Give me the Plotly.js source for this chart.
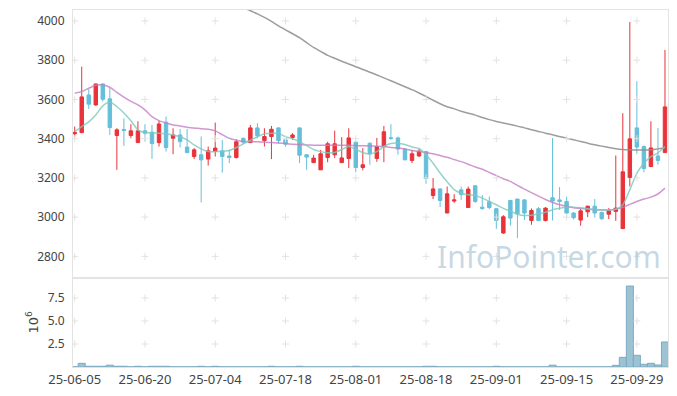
<!DOCTYPE html>
<html>
<head>
<meta charset="utf-8">
<script src="https://cdn.plot.ly/plotly-3.0.1.min.js"></script>
<style>
  html, body { margin: 0; padding: 0; background: #fff; }
  #chart { width: 677px; height: 396px; }
</style>
</head>
<body>
<div id="chart"></div>
<script>
const dates = [
  "25-06-05","25-06-09","25-06-10","25-06-11","25-06-12","25-06-13","25-06-16","25-06-17","25-06-18","25-06-19",
  "25-06-20","25-06-23","25-06-24","25-06-25","25-06-26","25-06-27","25-06-30","25-07-01","25-07-02","25-07-03",
  "25-07-04","25-07-07","25-07-08","25-07-09","25-07-10","25-07-11","25-07-14","25-07-15","25-07-16","25-07-17",
  "25-07-18","25-07-21","25-07-22","25-07-23","25-07-24","25-07-25","25-07-28","25-07-29","25-07-30","25-07-31",
  "25-08-01","25-08-04","25-08-05","25-08-06","25-08-07","25-08-08","25-08-11","25-08-12","25-08-13","25-08-14",
  "25-08-18","25-08-19","25-08-20","25-08-21","25-08-22","25-08-25","25-08-26","25-08-27","25-08-28","25-08-29",
  "25-09-01","25-09-02","25-09-03","25-09-04","25-09-05","25-09-08","25-09-09","25-09-10","25-09-11","25-09-12",
  "25-09-15","25-09-16","25-09-17","25-09-18","25-09-19","25-09-22","25-09-23","25-09-24","25-09-25","25-09-26",
  "25-09-29","25-09-30","25-10-01","25-10-02","25-10-10"
];

const openP = [
  3425,3431,3623,3572,3679,3603,3416,3447,3416,3380,
  3440,3433,3380,3484,3402,3419,3357,3309,3318,3296,
  3335,3338,3312,3304,3402,3380,3455,3390,3411,3455,
  3394,3406,3455,3318,3278,3241,3304,3318,3278,3299,
  3382,3253,3377,3299,3360,3405,3404,3347,3289,3312,
  3334,3110,3144,3021,3082,3139,3049,3160,3051,3078,
  3043,2919,3085,3092,3088,2983,3043,2983,3099,3088,
  3080,3021,2985,3027,3056,3024,3015,3029,2942,3202,
  3455,3360,3258,3312,3329
];
const highP = [
  3462,3767,3652,3680,3681,3657,3453,3504,3474,3489,
  3474,3470,3492,3513,3453,3449,3450,3352,3411,3360,
  3482,3394,3343,3397,3404,3470,3479,3453,3465,3457,
  3411,3428,3457,3320,3318,3343,3384,3441,3408,3453,
  3390,3352,3380,3404,3465,3474,3411,3350,3343,3347,
  3338,3199,3146,3156,3117,3156,3156,3162,3112,3105,
  3045,3010,3088,3094,3092,3044,3051,3051,3403,3153,
  3105,3026,3044,3058,3092,3028,3046,3314,3530,3995,
  3693,3365,3489,3455,3852
];
const lowP = [
  3406,3428,3552,3568,3589,3419,3241,3363,3402,3378,
  3385,3297,3360,3334,3321,3355,3326,3296,3075,3263,
  3309,3227,3275,3299,3375,3378,3402,3360,3296,3375,
  3360,3394,3275,3241,3278,3241,3280,3301,3278,3250,
  3229,3238,3267,3282,3280,3394,3318,3290,3275,3306,
  3170,3092,3051,3021,3072,3088,3049,3073,3037,3040,
  2940,2915,2956,2893,2985,2961,2980,2978,2983,3037,
  3000,2988,2956,3000,2998,2985,2990,2981,2940,3156,
  3323,3229,3255,3267,3329
];
const closeP = [
  3432,3613,3576,3679,3601,3457,3445,3442,3440,3440,
  3428,3375,3475,3355,3419,3385,3329,3343,3292,3338,
  3352,3309,3304,3384,3382,3455,3416,3411,3448,3390,
  3372,3419,3316,3306,3301,3323,3374,3374,3302,3404,
  3253,3267,3323,3360,3435,3401,3347,3292,3323,3336,
  3197,3144,3085,3119,3088,3115,3143,3080,3044,3049,
  2983,3002,2995,3017,3021,3034,2983,3046,3082,3080,
  3021,2997,3032,3056,3021,2992,3032,3046,3231,3399,
  3357,3248,3353,3289,3562
];

const ma5 = [
  3436,3462,3486,3521,3567,3587,3564,3531,3491,3445,
  3431,3430,3428,3424,3419,3410,3394,3368,3348,3334,
  3334,3336,3340,3355,3374,3392,3410,3425,3428,3427,
  3410,3400,3385,3365,3345,3334,3328,3330,3345,3360,
  3345,3330,3322,3334,3360,3375,3377,3370,3358,3350,
  3318,3275,3225,3180,3140,3122,3114,3110,3097,3080,
  3063,3045,3030,3015,3008,3010,3017,3025,3038,3045,
  3050,3051,3048,3043,3038,3037,3037,3040,3063,3140,
  3224,3275,3309,3328,3360
];
const ma20 = [
  3632,3640,3657,3672,3674,3662,3636,3612,3590,3572,
  3547,3512,3492,3480,3470,3465,3458,3455,3450,3448,
  3440,3420,3402,3392,3386,3385,3384,3382,3380,3378,
  3375,3372,3370,3368,3367,3367,3367,3366,3366,3366,
  3365,3364,3363,3362,3360,3355,3352,3347,3340,3335,
  3330,3323,3314,3305,3294,3283,3270,3256,3244,3228,
  3212,3196,3182,3162,3143,3125,3107,3090,3075,3063,
  3055,3048,3044,3041,3038,3037,3036,3040,3050,3065,
  3080,3092,3102,3118,3148
];
const ma60 = [
  null,null,null,null,null,null,null,null,null,null,
  null,null,null,null,null,null,null,null,null,null,
  4140,4120,4100,4085,4068,4052,4036,4018,3998,3975,
  3955,3935,3915,3890,3865,3845,3825,3810,3795,3781,
  3767,3753,3739,3725,3710,3695,3680,3665,3650,3633,
  3615,3596,3578,3563,3552,3540,3530,3520,3508,3497,
  3488,3480,3472,3464,3455,3446,3437,3428,3420,3411,
  3402,3394,3386,3377,3369,3362,3355,3349,3345,3343,
  3342,3342,3343,3348,3352
];

// volume in millions of shares
const volumeM = [
  0.02,0.40,0.08,0.08,0.08,0.20,0.08,0.08,0.02,0.08,
  0.02,0.08,0.08,0.08,0.02,0.02,0.02,0.02,0.08,0.02,
  0.08,0.02,0.02,0.02,0.02,0.02,0.02,0.02,0.08,0.02,
  0.02,0.02,0.08,0.02,0.02,0.02,0.02,0.02,0.02,0.02,
  0.08,0.02,0.02,0.02,0.02,0.02,0.02,0.02,0.02,0.02,
  0.08,0.08,0.02,0.02,0.02,0.02,0.02,0.02,0.02,0.02,
  0.08,0.02,0.02,0.02,0.02,0.02,0.02,0.02,0.20,0.02,
  0.02,0.02,0.02,0.02,0.02,0.02,0.02,0.18,1.05,8.80,
  1.27,0.30,0.40,0.22,2.72
];

const priceTicks = [2800, 3000, 3200, 3400, 3600, 3800, 4000];
const volTicks = [2.5, 5.0, 7.5];
const volTickText = ["2.5", "5.0", "7.5"];
const xTickVals = dates.filter((d, i) => i % 10 === 0);

const RED = '#e8333a';
const BLUE = '#66bfda';

// grid "+" markers at tick intersections
const gx = [], gy = [], vx = [], vy = [];
xTickVals.forEach(d => {
  priceTicks.forEach(p => { gx.push(d); gy.push(p); });
  volTicks.forEach(v => { vx.push(d); vy.push(v); });
});

const crossMarker = { symbol: 'cross-thin', size: 5, line: { color: '#e2e2e2', width: 1 } };

const traces = [
  {
    type: 'candlestick', x: dates, open: openP, high: highP, low: lowP, close: closeP,
    xaxis: 'x', yaxis: 'y',
    increasing: { line: { color: RED, width: 1 }, fillcolor: RED },
    decreasing: { line: { color: BLUE, width: 1 }, fillcolor: BLUE },
    whiskerwidth: 0, hoverinfo: 'skip', showlegend: false
  },
  {
    type: 'scatter', mode: 'lines', x: dates, y: ma60, xaxis: 'x', yaxis: 'y',
    line: { color: 'rgba(140,140,140,0.85)', width: 1.5, shape: 'spline', smoothing: 0.6 },
    hoverinfo: 'skip', showlegend: false, connectgaps: false
  },
  {
    type: 'scatter', mode: 'lines', x: dates, y: ma20, xaxis: 'x', yaxis: 'y',
    line: { color: 'rgba(196,125,196,0.8)', width: 1.5, shape: 'spline', smoothing: 0.6 },
    hoverinfo: 'skip', showlegend: false
  },
  {
    type: 'scatter', mode: 'lines', x: dates, y: ma5, xaxis: 'x', yaxis: 'y',
    line: { color: 'rgba(125,200,188,0.8)', width: 1.5, shape: 'spline', smoothing: 0.6 },
    hoverinfo: 'skip', showlegend: false
  },
  {
    type: 'bar', x: dates, y: volumeM, xaxis: 'x', yaxis: 'y2',
    marker: { color: '#9cc3d4', line: { color: '#7eaac0', width: 1 } },
    hoverinfo: 'skip', showlegend: false
  },
  {
    type: 'scatter', mode: 'markers', x: gx, y: gy, xaxis: 'x', yaxis: 'y',
    marker: crossMarker, hoverinfo: 'skip', showlegend: false
  },
  {
    type: 'scatter', mode: 'markers', x: vx, y: vy, xaxis: 'x', yaxis: 'y2',
    marker: crossMarker, hoverinfo: 'skip', showlegend: false
  }
];

const axisFont = { family: 'Noto Sans, DejaVu Sans, sans-serif', size: 12, color: '#444' };

const layout = {
  width: 677, height: 396,
  margin: { l: 73, r: 9, t: 10, b: 29, pad: 0 },
  paper_bgcolor: '#fff', plot_bgcolor: '#fff',
  showlegend: false,
  bargap: 0,
  xaxis: {
    type: 'category', anchor: 'y2',
    categoryorder: 'array', categoryarray: dates,
    range: [-0.24, 84.43],
    tickmode: 'array', tickvals: xTickVals, ticktext: xTickVals,
    tickfont: { family: 'Noto Sans, DejaVu Sans, sans-serif', size: 13, color: '#444' },
    ticks: '', showgrid: false, zeroline: false,
    showline: true, linecolor: '#e3e3e3', linewidth: 1, mirror: 'all',
    rangeslider: { visible: false }, fixedrange: true
  },
  yaxis: {
    domain: [0.25, 1],
    range: [2691, 4056],
    tickmode: 'array', tickvals: priceTicks,
    tickfont: axisFont, ticks: '', ticklabelstandoff: 5,
    showgrid: false, zeroline: false,
    showline: true, linecolor: '#e3e3e3', linewidth: 1, mirror: 'all'
  },
  yaxis2: {
    domain: [0, 0.25],
    range: [0, 9.7],
    tickmode: 'array', tickvals: volTicks, ticktext: volTickText,
    tickfont: axisFont, ticks: '', ticklabelstandoff: 5,
    showgrid: false, zeroline: false,
    showline: true, linecolor: '#e3e3e3', linewidth: 1, mirror: 'all',
    title: { text: '10<sup>6</sup>', font: { family: 'DejaVu Sans, sans-serif', size: 13, color: '#444' }, standoff: 6 }
  },
  annotations: [
    {
      text: 'InfoPointer.com', xref: 'paper', yref: 'paper',
      x: 0.80, y: 0.31, xanchor: 'center', yanchor: 'middle', showarrow: false,
      font: { family: 'Noto Sans, sans-serif', size: 30, color: 'rgba(160,190,210,0.6)' }
    }
  ]
};

Plotly.newPlot('chart', traces, layout, { staticPlot: true, displayModeBar: false });
</script>
</body>
</html>
